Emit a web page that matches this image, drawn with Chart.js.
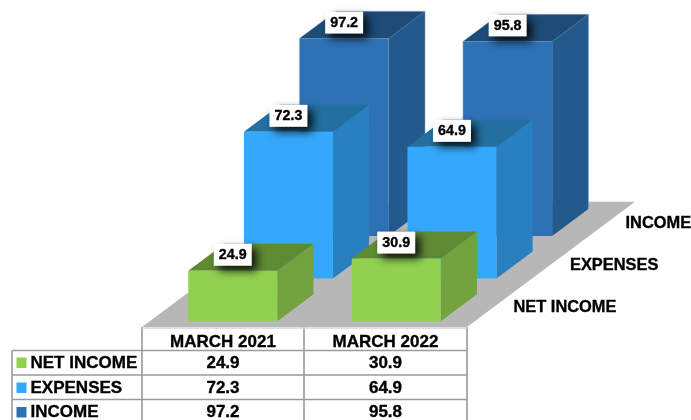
<!DOCTYPE html>
<html>
<head>
<meta charset="utf-8">
<style>
  html, body { margin: 0; padding: 0; background: #fff; }
  canvas { display: block; }
</style>
<script src="https://cdn.jsdelivr.net/npm/chart.js@4/dist/chart.umd.min.js"></script>
</head>
<body>
<canvas id="chart" width="691" height="420"></canvas>
<script>
// Quarterly figures
const periods = ['MARCH 2021', 'MARCH 2022'];
const seriesNames = ['NET INCOME', 'EXPENSES', 'INCOME'];
const netIncome = [24.9, 30.9];
const expenses = [72.3, 64.9];
const income = [97.2, 95.8];

// Face colours per series: front, side, top
const faces = [
  ['#92d050', '#72a33e', '#5f8a34'],
  ['#35a8fb', '#2880c1', '#236f9f'],
  ['#2e71b4', '#235a8e', '#1e4b78']
];

const FONT = '"Liberation Sans", Arial, sans-serif';
const ROW_STEP = { x: 55.7, y: -42.7 };   // shift between series rows on the floor
const DEPTH = { x: 36.2, y: -27 };        // depth of each box

function poly(ctx, pts, fill) {
  ctx.beginPath();
  pts.forEach((p, i) => i ? ctx.lineTo(p[0], p[1]) : ctx.moveTo(p[0], p[1]));
  ctx.closePath();
  ctx.fillStyle = fill;
  ctx.fill();
}

// Bold text with a hairline outline so it reads a little heavier
function heavyText(ctx, text, x, y) {
  ctx.lineWidth = 0.35;
  ctx.strokeStyle = ctx.fillStyle;
  ctx.strokeText(text, x, y);
  ctx.fillText(text, x, y);
}

function drawCuboid(ctx, bar, row, colours) {
  const half = bar.width / 2;
  const l = bar.x - half + ROW_STEP.x * row;
  const r = bar.x + half + ROW_STEP.x * row;
  const t = bar.y + ROW_STEP.y * row;
  const b = bar.base + ROW_STEP.y * row;
  const dx = DEPTH.x, dy = DEPTH.y;
  if (row === 2) {
    // pale rim around the rear boxes
    ctx.beginPath();
    ctx.moveTo(l, b);
    ctx.lineTo(l, t);
    ctx.lineTo(l + dx, t + dy);
    ctx.lineTo(r + dx, t + dy);
    ctx.lineTo(r + dx, b + dy);
    ctx.strokeStyle = 'rgba(170,195,225,0.7)';
    ctx.lineWidth = 1.5;
    ctx.stroke();
  }
  poly(ctx, [[r, t], [r + dx, t + dy], [r + dx, b + dy], [r, b]], colours[1]);
  poly(ctx, [[l, t], [l + dx, t + dy], [r + dx, t + dy], [r, t]], colours[2]);
  poly(ctx, [[l, t], [r, t], [r, b], [l, b]], colours[0]);
}

// Floor below the boxes, drawn before any dataset
const floorPlugin = {
  id: 'floor',
  beforeDatasetsDraw(chart) {
    poly(chart.ctx, [[142, 327], [467, 327], [635, 201.7], [310, 201.7]], '#b7b7b7');
  }
};

// Replaces the flat bars with extruded boxes placed by the chart's own scales
const cuboidPlugin = {
  id: 'cuboids',
  beforeDatasetDraw(chart, args) {
    const i = args.index;
    args.meta.data.forEach(bar => drawCuboid(chart.ctx, bar, i, faces[i]));
    return false;
  },
  afterDatasetsDraw(chart) {
    const ctx = chart.ctx;
    const w = 38, h = 22;
    for (let i = chart.data.datasets.length - 1; i >= 0; i--) {
      const meta = chart.getDatasetMeta(i);
      meta.data.forEach((bar, j) => {
        const cx = bar.x + ROW_STEP.x * i;
        const cy = bar.y + ROW_STEP.y * i - 16;
        ctx.save();
        ctx.shadowColor = 'rgba(0,0,0,0.85)';
        ctx.shadowBlur = 9;
        ctx.shadowOffsetX = 5;
        ctx.shadowOffsetY = 5;
        ctx.fillStyle = '#fff';
        ctx.fillRect(cx - w / 2, cy - h / 2, w, h);
        ctx.restore();
        ctx.fillStyle = '#000';
        ctx.font = 'bold 14.3px ' + FONT;
        ctx.textAlign = 'center';
        ctx.textBaseline = 'middle';
        heavyText(ctx, chart.data.datasets[i].data[j].toFixed(1), cx, cy + 0.5);
      });
    }
  }
};

// Series names along the right edge of the floor, and the data table underneath
const tablePlugin = {
  id: 'dataTable',
  afterDraw(chart) {
    const ctx = chart.ctx;
    ctx.save();
    ctx.fillStyle = '#000';
    ctx.textBaseline = 'middle';
    ctx.textAlign = 'left';
    ctx.font = 'bold 16.4px ' + FONT;
    const sideX = [513.5, 570, 625.5];
    const sideY = [307, 265, 223];
    seriesNames.forEach((name, i) => heavyText(ctx, name, sideX[i], sideY[i]));

    const colX = [142, 304, 467];
    const rowY = [350.5, 375, 399.5];
    ctx.strokeStyle = '#9a9a9a';
    ctx.lineWidth = 1.6;
    ctx.beginPath();
    colX.forEach(x => { ctx.moveTo(x, 327); ctx.lineTo(x, 420); });
    ctx.moveTo(12, 350.5); ctx.lineTo(12, 420);
    rowY.forEach(y => { ctx.moveTo(12, y); ctx.lineTo(467, y); });
    ctx.stroke();
    ctx.strokeStyle = '#d4d4d4';
    ctx.beginPath();
    ctx.moveTo(142, 328); ctx.lineTo(467, 328);
    ctx.stroke();

    ctx.fillStyle = '#000';
    ctx.font = 'bold 17px ' + FONT;
    ctx.textAlign = 'center';
    const centers = [223, 385.5];
    periods.forEach((p, j) => heavyText(ctx, p, centers[j], 342));
    const textY = [363, 388, 412.5];
    chart.data.datasets.forEach((ds, i) => {
      ctx.fillStyle = faces[i][0];
      ctx.fillRect(16.5, textY[i] - 5.5, 10, 10.5);
      ctx.fillStyle = '#000';
      ctx.textAlign = 'left';
      heavyText(ctx, seriesNames[i], 30.5, textY[i]);
      ctx.textAlign = 'center';
      ds.data.forEach((v, j) => heavyText(ctx, v.toFixed(1), centers[j], textY[i]));
    });
    ctx.restore();
  }
};

new Chart(document.getElementById('chart'), {
  type: 'bar',
  data: {
    labels: periods,
    datasets: [
      { label: seriesNames[0], data: netIncome, backgroundColor: faces[0][0] },
      { label: seriesNames[1], data: expenses, backgroundColor: faces[1][0] },
      { label: seriesNames[2], data: income, backgroundColor: faces[2][0] }
    ]
  },
  options: {
    responsive: false,
    animation: false,
    layout: { padding: { left: 151, right: 213, top: 118.3, bottom: 98.7 } },
    datasets: { bar: { grouped: false, barThickness: 89, clip: false } },
    plugins: { legend: { display: false }, tooltip: { enabled: false } },
    scales: {
      x: { display: false },
      y: { display: false, min: 0, max: 100 }
    }
  },
  plugins: [floorPlugin, cuboidPlugin, tablePlugin]
});
</script>
</body>
</html>
